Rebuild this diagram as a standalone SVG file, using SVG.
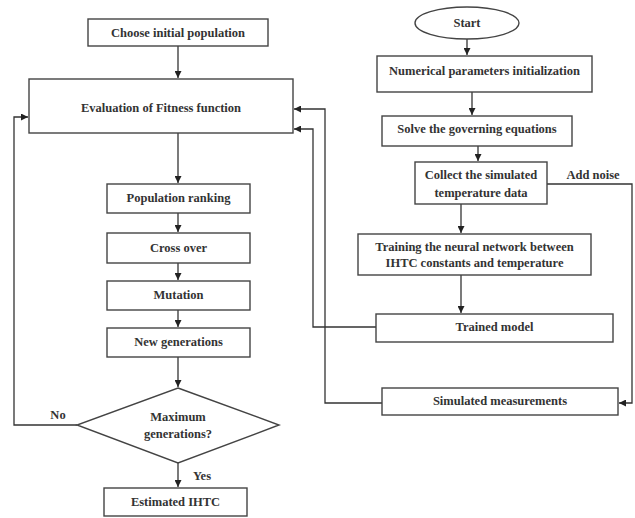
<svg xmlns="http://www.w3.org/2000/svg" width="635" height="518" viewBox="0 0 635 518">
<defs>
<marker id="ah" viewBox="0 0 8 8" refX="8" refY="4" markerWidth="7" markerHeight="7" markerUnits="userSpaceOnUse" orient="auto">
<path d="M0,0 L8,4 L0,8 z" fill="#222"/>
</marker>
<style>
.box{fill:#fff;stroke:#444;stroke-width:1.4}
.t{font-family:"Liberation Serif","Times New Roman",serif;font-size:12.5px;font-weight:bold;fill:#333;text-anchor:middle;dominant-baseline:central}
.c{fill:none;stroke:#333;stroke-width:1.3}
.a{marker-end:url(#ah)}
</style>
</defs>
<rect width="635" height="518" fill="#fff"/>
<g id="connectors">
<path class="c a" d="M178,46 V78"/>
<path class="c a" d="M178,133 V183"/>
<path class="c a" d="M178,213 V232"/>
<path class="c a" d="M178,263 V280"/>
<path class="c a" d="M178,310 V327"/>
<path class="c a" d="M178,357 V387"/>
<path class="c a" d="M178,463 V487"/>
<path class="c a" d="M77,425 H14 V117 H28"/>
<path class="c a" d="M467,39 V55"/>
<path class="c a" d="M472,92 V115"/>
<path class="c a" d="M478,146 V161"/>
<path class="c a" d="M461,204 V233"/>
<path class="c a" d="M461,275 V313"/>
<path class="c a" d="M376,327 H313 V129 H294"/>
<path class="c a" d="M382,403 H325 V109 H294"/>
<path class="c a" d="M547,184 H632 V403 H619"/>
<text class="t" x="58" y="415">No</text>
<text class="t" x="202" y="476">Yes</text>
<text class="t" x="593" y="175">Add noise</text>
</g>
<g id="choose"><rect class="box" x="88" y="19" width="180" height="27"/><text class="t" x="178" y="33">Choose initial population</text></g>
<g id="evaluation"><rect class="box" x="29" y="79" width="264" height="54"/><text class="t" x="161" y="108">Evaluation of Fitness function</text></g>
<g id="ranking"><rect class="box" x="107" y="184" width="143" height="29"/><text class="t" x="178.5" y="198">Population ranking</text></g>
<g id="crossover"><rect class="box" x="107" y="233" width="143" height="30"/><text class="t" x="178.5" y="248">Cross over</text></g>
<g id="mutation"><rect class="box" x="107" y="281" width="143" height="29"/><text class="t" x="178.5" y="295">Mutation</text></g>
<g id="newgen"><rect class="box" x="107" y="328" width="143" height="29"/><text class="t" x="178.5" y="342">New generations</text></g>
<g id="decision"><polygon class="box" points="178,388 279,425 178,463 77,425"/><text class="t" x="178" y="417">Maximum</text><text class="t" x="178" y="434">generations?</text></g>
<g id="estimated"><rect class="box" x="104" y="488" width="143" height="28"/><text class="t" x="175.5" y="502">Estimated IHTC</text></g>
<g id="start"><ellipse class="box" cx="467" cy="23" rx="52" ry="16"/><text class="t" x="467" y="23">Start</text></g>
<g id="numerical"><rect class="box" x="377" y="56" width="215" height="36"/><text class="t" x="484.5" y="71">Numerical parameters initialization</text></g>
<g id="solve"><rect class="box" x="382" y="116" width="190" height="30"/><text class="t" x="477" y="129">Solve the governing equations</text></g>
<g id="collect"><rect class="box" x="415" y="162" width="132" height="42"/><text class="t" x="481" y="175">Collect the simulated</text><text class="t" x="481" y="193">temperature data</text></g>
<g id="training"><rect class="box" x="358" y="234" width="233" height="41"/><text class="t" x="474.5" y="247">Training the neural network between</text><text class="t" x="474.5" y="263">IHTC constants and temperature</text></g>
<g id="trained"><rect class="box" x="376" y="314" width="237" height="28"/><text class="t" x="494.5" y="327">Trained model</text></g>
<g id="simulated"><rect class="box" x="382" y="388" width="236" height="27"/><text class="t" x="500" y="401">Simulated measurements</text></g>
</svg>
